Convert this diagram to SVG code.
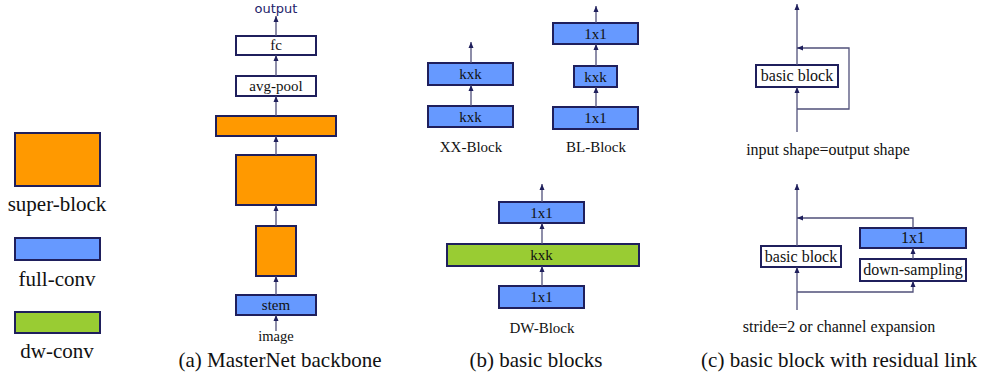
<svg xmlns="http://www.w3.org/2000/svg" width="981" height="379" viewBox="0 0 981 379">
<defs>
<marker id="ah" markerWidth="6" markerHeight="6" refX="6" refY="3" orient="auto" markerUnits="userSpaceOnUse">
<path d="M0,0.5 L6,3 L0,5.5 Z" fill="#1f1f5c"/>
</marker>
<style>
.box{stroke:#1f1f5c;stroke-width:2}
.sb{fill:#ff9900}
.fc{fill:#6699ff}
.dw{fill:#99cc33}
.wh{fill:#ffffff}
.t{font-family:"Liberation Serif","Times New Roman",serif;fill:#111;text-anchor:middle}
.t15{font-size:15px}
.t16{font-size:16px}
.t21{font-size:21px}
.ln{stroke:#50507a;stroke-width:1.3;fill:none}
.ar{marker-end:url(#ah)}
</style>
</defs>
<rect width="981" height="379" fill="#ffffff"/>

<!-- legend -->
<g id="legend-super-block">
<rect class="box sb" x="15" y="133" width="85" height="53"/>
<text class="t t21" x="57" y="211">super-block</text>
</g>
<g id="legend-full-conv">
<rect class="box fc" x="15" y="238" width="85" height="22"/>
<text class="t t21" x="57" y="286">full-conv</text>
</g>
<g id="legend-dw-conv">
<rect class="box dw" x="15" y="312" width="85" height="21"/>
<text class="t t21" x="57" y="358">dw-conv</text>
</g>

<!-- panel a -->
<g id="a-output"><text x="276" y="13" font-family="DejaVu Sans,Verdana,sans-serif" font-size="13" fill="#23236b" text-anchor="middle">output</text></g>
<g id="a-fc"><rect class="box wh" x="236" y="36" width="80" height="19"/><text class="t t15" x="276" y="50">fc</text></g>
<g id="a-avgpool"><rect class="box wh" x="236" y="76" width="80" height="20"/><text class="t t15" x="276" y="91">avg-pool</text></g>
<g id="a-super3"><rect class="box sb" x="216" y="116" width="120" height="20"/></g>
<g id="a-super2"><rect class="box sb" x="236" y="155" width="80" height="50"/></g>
<g id="a-super1"><rect class="box sb" x="256" y="226" width="40" height="50"/></g>
<g id="a-stem"><rect class="box fc" x="236" y="295" width="80" height="20"/><text class="t t15" x="276" y="310">stem</text></g>
<g id="a-image"><text class="t" font-size="14.5" x="276" y="341">image</text></g>
<g id="a-caption"><text class="t t21" x="280" y="367">(a) MasterNet backbone</text></g>

<!-- panel b -->
<g id="xx-top"><rect class="box fc" x="428" y="63" width="85" height="22"/><text class="t t15" x="470.5" y="79">kxk</text></g>
<g id="xx-bot"><rect class="box fc" x="428" y="106" width="85" height="21"/><text class="t t15" x="470.5" y="122">kxk</text></g>
<g id="xx-label"><text class="t t15" x="471" y="152">XX-Block</text></g>
<g id="bl-top"><rect class="box fc" x="553" y="23" width="85" height="21"/><text class="t t15" x="595.5" y="39">1x1</text></g>
<g id="bl-mid"><rect class="box fc" x="574" y="66" width="43" height="21"/><text class="t t15" x="595.5" y="82">kxk</text></g>
<g id="bl-bot"><rect class="box fc" x="553" y="107" width="85" height="22"/><text class="t t15" x="595.5" y="123">1x1</text></g>
<g id="bl-label"><text class="t t15" x="596" y="152">BL-Block</text></g>
<g id="dw-top"><rect class="box fc" x="499" y="202" width="85" height="21"/><text class="t t15" x="541.5" y="218">1x1</text></g>
<g id="dw-mid"><rect class="box dw" x="447" y="244" width="192" height="22"/><text class="t t15" x="541.5" y="260">kxk</text></g>
<g id="dw-bot"><rect class="box fc" x="499" y="286" width="85" height="22"/><text class="t t15" x="541.5" y="302">1x1</text></g>
<g id="dw-label"><text class="t t15" x="542" y="333">DW-Block</text></g>
<g id="b-caption"><text class="t t21" x="536" y="367">(b) basic blocks</text></g>

<!-- panel c -->
<g id="c1-block"><rect class="box wh" x="756" y="65" width="82" height="22"/><text class="t t16" x="797" y="81">basic block</text></g>
<g id="c1-label"><text class="t t16" x="828" y="155">input shape=output shape</text></g>
<g id="c2-block"><rect class="box wh" x="761" y="246" width="80" height="21"/><text class="t t16" x="801" y="262">basic block</text></g>
<g id="c2-1x1"><rect class="box fc" x="860" y="228" width="106" height="20"/><text class="t t16" x="913" y="243">1x1</text></g>
<g id="c2-ds"><rect class="box wh" x="860" y="259" width="106" height="22"/><text class="t t16" x="913" y="275">down-sampling</text></g>
<g id="c2-label"><text class="t t16" x="839" y="332">stride=2 or channel expansion</text></g>
<g id="c-caption"><text class="t t21" x="839" y="367">(c) basic block with residual link</text></g>

<g id="connectors">
<line class="ln ar" x1="276" y1="331" x2="276" y2="315"/>
<line class="ln ar" x1="276" y1="295" x2="276" y2="276"/>
<line class="ln ar" x1="276" y1="226" x2="276" y2="205"/>
<line class="ln ar" x1="276" y1="155" x2="276" y2="136"/>
<line class="ln ar" x1="276" y1="116" x2="276" y2="96"/>
<line class="ln ar" x1="276" y1="76" x2="276" y2="55"/>
<line class="ln ar" x1="276" y1="36" x2="276" y2="16"/>

<line class="ln ar" x1="471" y1="106" x2="471" y2="85"/>
<line class="ln ar" x1="471" y1="63" x2="471" y2="42"/>
<line class="ln ar" x1="596" y1="107" x2="596" y2="87"/>
<line class="ln ar" x1="596" y1="66" x2="596" y2="44"/>
<line class="ln ar" x1="596" y1="23" x2="596" y2="6"/>
<line class="ln ar" x1="542" y1="286" x2="542" y2="266"/>
<line class="ln ar" x1="542" y1="244" x2="542" y2="223"/>
<line class="ln ar" x1="542" y1="202" x2="542" y2="184"/>

<line class="ln ar" x1="797" y1="132" x2="797" y2="87"/>
<line class="ln ar" x1="797" y1="65" x2="797" y2="4"/>
<path class="ln ar" d="M797,109 H849 V48 H797"/>

<line class="ln ar" x1="797" y1="310" x2="797" y2="267"/>
<line class="ln ar" x1="797" y1="246" x2="797" y2="184"/>
<path class="ln ar" d="M913,228 V218 H797"/>
<path class="ln ar" d="M797,292 H913 V281"/>
<line class="ln ar" x1="913" y1="259" x2="913" y2="248"/>
</g>
</svg>
